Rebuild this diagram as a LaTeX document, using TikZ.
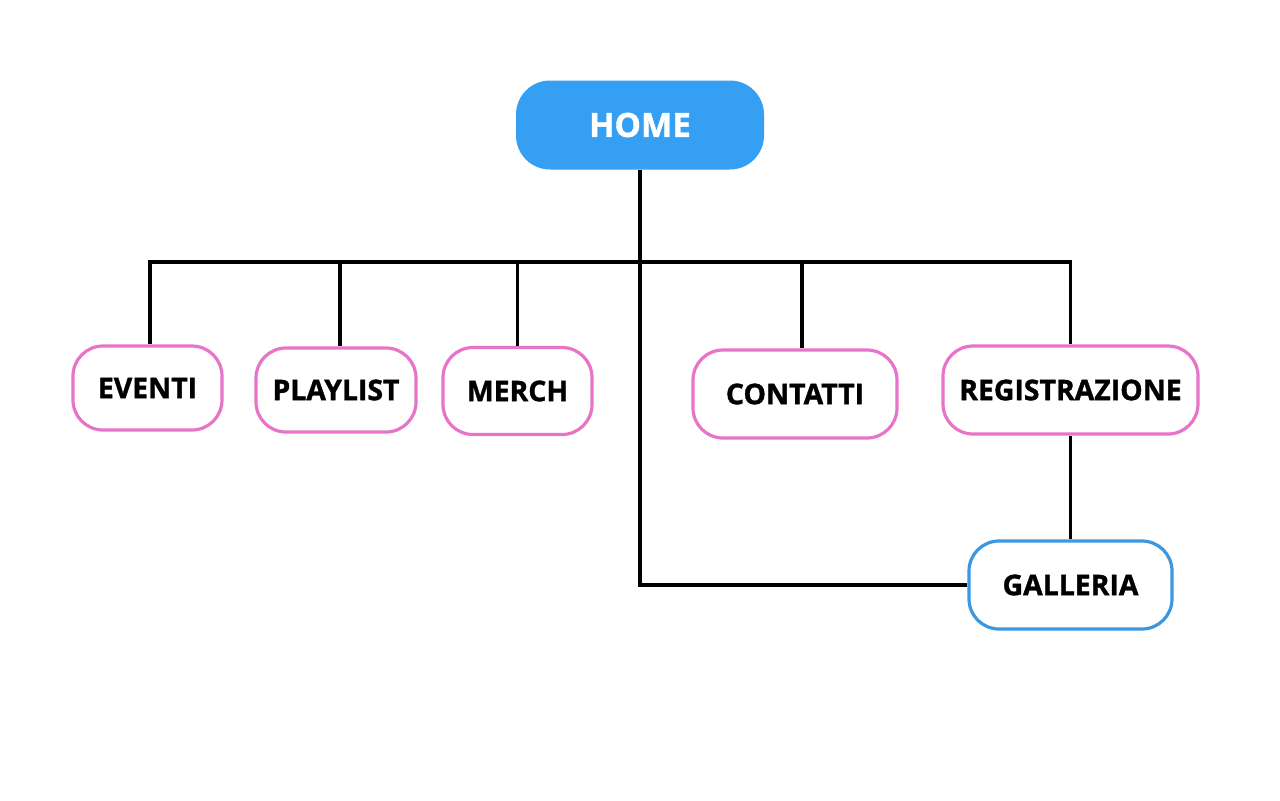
\documentclass[tikz,border=0pt]{standalone}
\usepackage{fontspec}
\setmainfont{Open Sans}[BoldFeatures={FakeBold=1.2}]
\definecolor{homeblue}{HTML}{349FF3}
\definecolor{pinkb}{HTML}{E874C8}
\definecolor{galblue}{HTML}{3B97E0}
\begin{document}
\begin{tikzpicture}[x=0.5pt,y=-0.5pt,
  box/.style={draw=pinkb,line width=1.6pt,fill=white,rounded corners=15pt,
    inner sep=0pt,font=\fontsize{14.2}{16}\selectfont\bfseries},
  conn/.style={draw=black,line width=1.7pt}]
\useasboundingbox (0,0) rectangle (1280,800);
\fill[white] (0,0) rectangle (1280,800);
\node[fill=homeblue,rounded corners=17pt,minimum width=124pt,minimum height=44.5pt,
  inner sep=0pt,text=white,font=\fontsize{16.6}{19}\selectfont\bfseries] (home) at (640,125) {HOME};
\node[box,minimum width=74.5pt,minimum height=42pt] (eventi) at (147.5,388) {EVENTI};
\node[box,minimum width=80pt,minimum height=42pt] (playlist) at (336,390) {PLAYLIST};
\node[box,minimum width=74.5pt,minimum height=43.5pt] (merch) at (517.5,391) {MERCH};
\node[box,minimum width=102pt,minimum height=44pt] (contatti) at (795,394) {CONTATTI};
\node[box,minimum width=127.5pt,minimum height=44pt] (reg) at (1070.5,390) {REGISTRAZIONE};
\node[box,draw=galblue,minimum width=101.5pt,minimum height=44pt] (gal) at (1070.5,585) {GALLERIA};
\coordinate (hj) at (640,262);
\coordinate (hl) at (150,262);
\coordinate (hr) at (1070,262);
\coordinate (gc) at (640,585);
\draw[conn] (home.south) -- (hj);
\draw[conn,line cap=rect] (hl) -- (hr);
\draw[conn] (hl) -- (eventi.north -| hl);
\draw[conn] (340,262) -- (playlist.north -| 340,0);
\draw[conn] (merch.north |- hj) -- (merch.north);
\draw[conn] (802,262) -- (contatti.north -| 802,0);
\draw[conn] (reg.north |- hj) -- (reg.north);
\draw[conn] (hj) -- (gc) -- (gal.west);
\draw[conn] (reg.south) -- (gal.north);
\end{tikzpicture}
\end{document}
